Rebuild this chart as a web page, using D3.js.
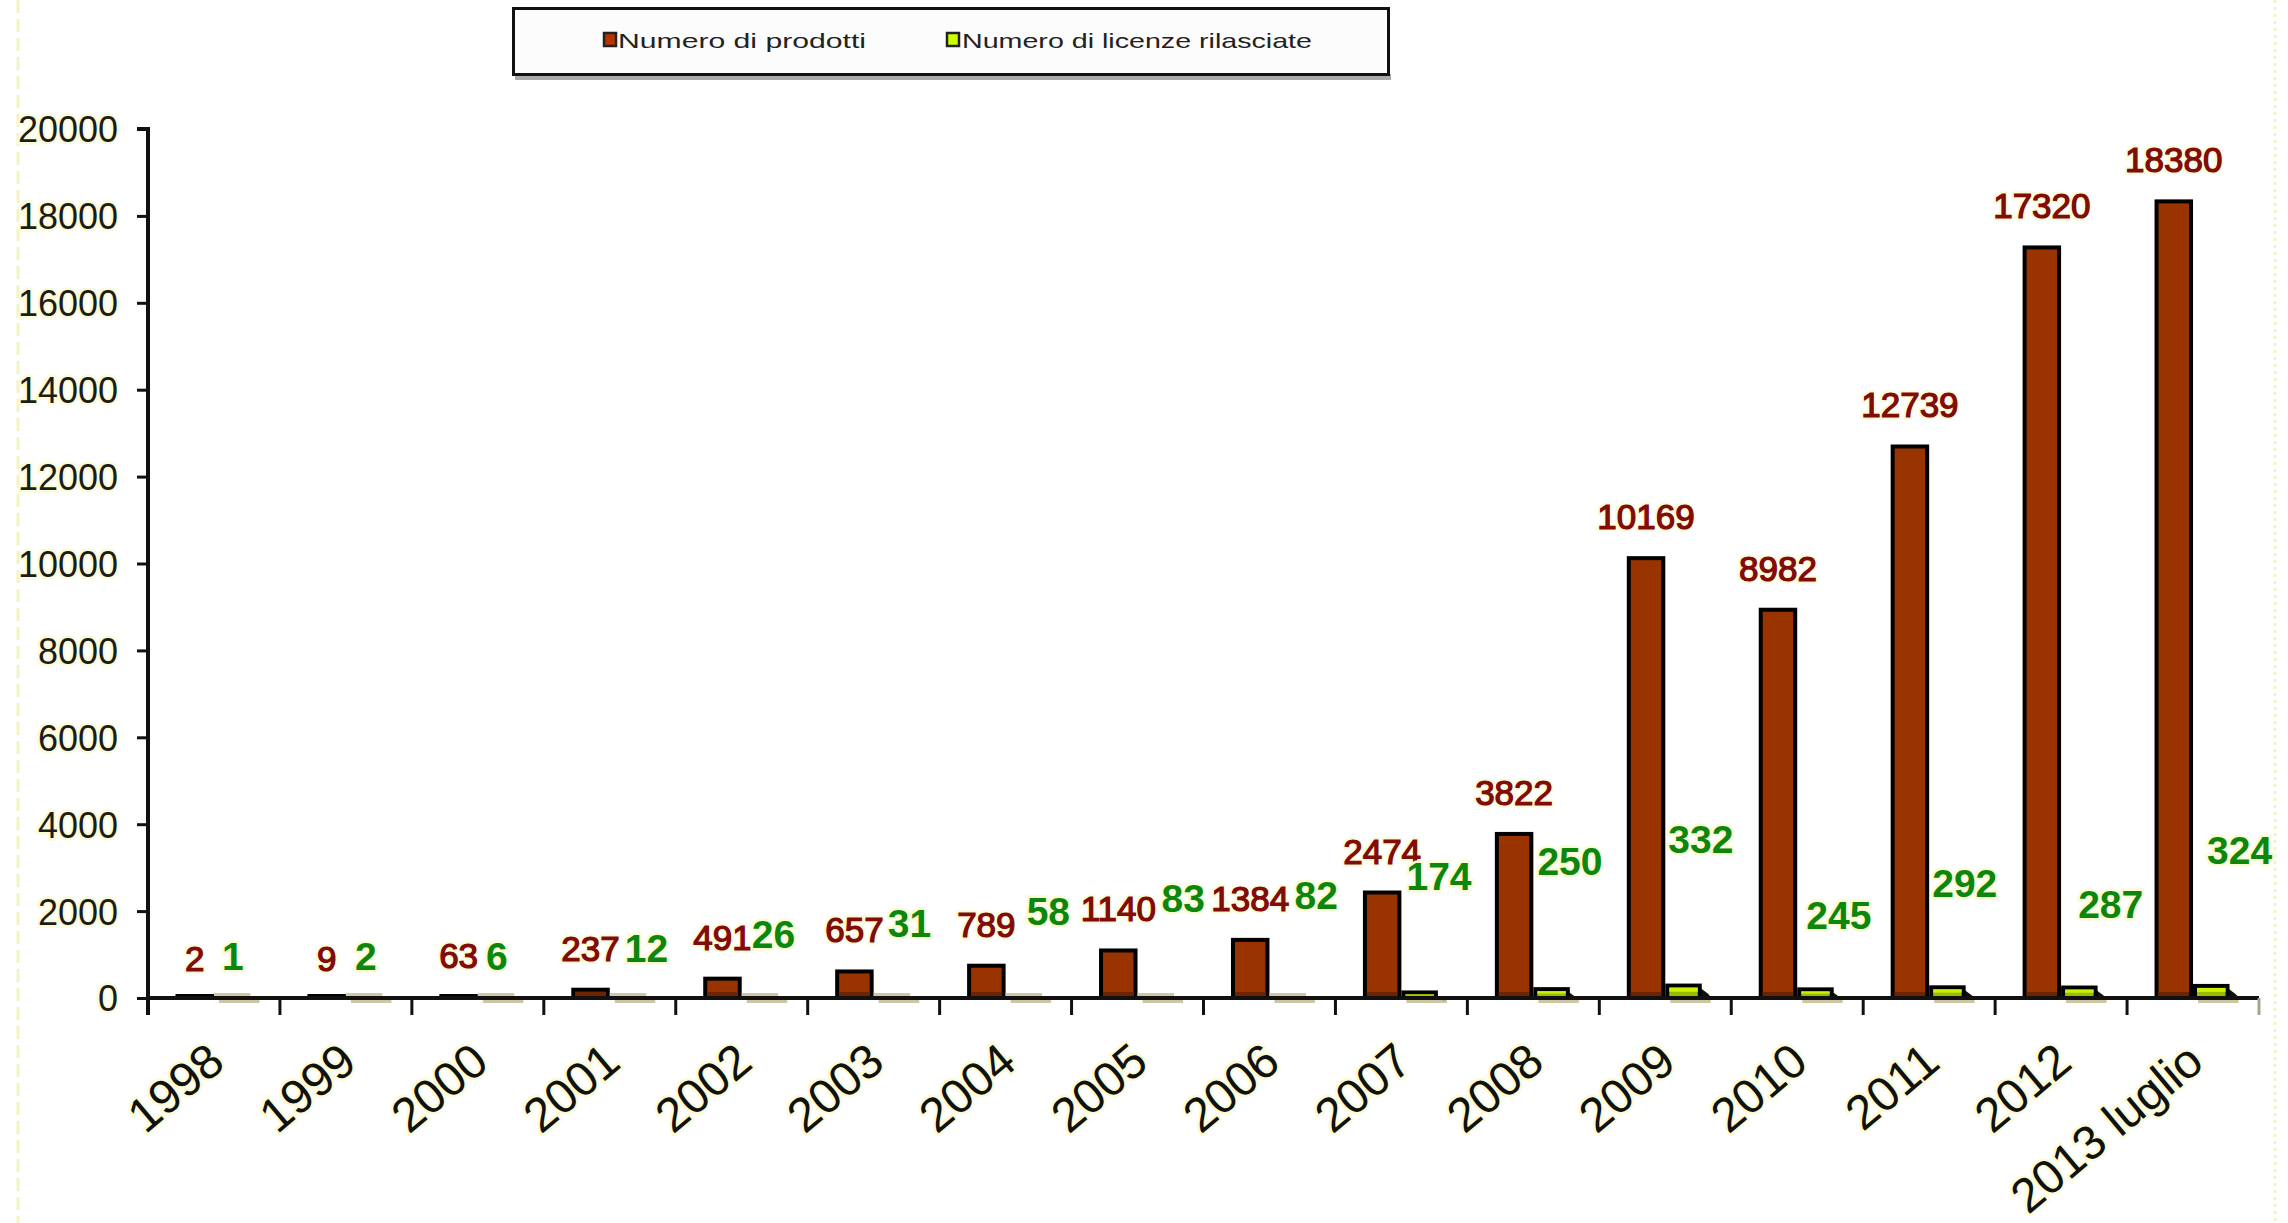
<!DOCTYPE html>
<html>
<head>
<meta charset="utf-8">
<script src="https://cdn.jsdelivr.net/npm/d3@7"></script>
<style>
  html, body { margin: 0; padding: 0; background: #ffffff; }
  svg { display: block; }
  text { font-family: "Liberation Sans", Arial, sans-serif; }
</style>
</head>
<body>
<svg id="chart" width="2288" height="1223"></svg>
<script>
// Anni (categorie) e valori delle due serie
const categories = ["1998", "1999", "2000", "2001", "2002", "2003", "2004", "2005",
                    "2006", "2007", "2008", "2009", "2010", "2011", "2012", "2013 luglio"];
const prodotti = [2, 9, 63, 237, 491, 657, 789, 1140, 1384, 2474, 3822, 10169, 8982, 12739, 17320, 18380];
const licenze  = [1, 2, 6, 12, 26, 31, 58, 83, 82, 174, 250, 332, 245, 292, 287, 324];
const seriesNames = ["Numero di prodotti", "Numero di licenze rilasciate"];
const yTicks = [0, 2000, 4000, 6000, 8000, 10000, 12000, 14000, 16000, 18000, 20000];

// Placement of the green value labels (pixels above the axis / from band start)
const greenLabelLift  = [28, 28, 28, 36, 50, 61, 73, 86, 89, 108, 123, 145, 69, 101, 80, 134];
const greenLabelShift = [74, 75, 74, 81, 76, 80, 87, 90, 91, 71, 70, 69, 75, 69, 83, 80];

const svg = d3.select("#chart");
const plot = { left: 148, right: 2259, top: 129, bottom: 998 };

const x0 = d3.scaleBand().domain(categories).range([plot.left, plot.right]).paddingInner(0).paddingOuter(0);
const x1 = d3.scaleBand().domain(seriesNames).range([0, x0.bandwidth()]).paddingInner(0).paddingOuter(0.714);
const y = d3.scaleLinear().domain([0, 20000]).range([plot.bottom, plot.top]);

const halo = "#fbfbd6";

// dashed border lines of the chart area
svg.append("line").attr("x1", 18).attr("x2", 18).attr("y1", 0).attr("y2", 1223)
  .attr("stroke", "#f3f3c0").attr("stroke-width", 3).attr("stroke-dasharray", "13 6");
svg.append("line").attr("x1", 2275).attr("x2", 2275).attr("y1", 0).attr("y2", 1223)
  .attr("stroke", "#f3f3c0").attr("stroke-width", 3).attr("stroke-dasharray", "3 4");

// ---- bars ----
const bars = svg.append("g");
categories.forEach((c, i) => {
  // numero di prodotti
  const rx = x0(c) + x1(seriesNames[0]);
  const rw = x1.bandwidth();
  const ry = y(prodotti[i]);
  const rh = y(0) - ry;
  const topEdge = Math.min(ry, y(0) - 4);
  bars.append("rect")
    .attr("x", rx + 2).attr("y", topEdge + 2)
    .attr("width", rw - 4).attr("height", y(0) - topEdge - 2)
    .attr("fill", "#993300")
    .attr("stroke", "#000").attr("stroke-width", 4);
  if (rh > 10) {
    bars.append("rect").attr("x", rx + 4).attr("y", y(0) - 6).attr("width", rw - 8).attr("height", 4)
      .attr("fill", "#6e2400");
  }

  // numero di licenze rilasciate
  const gx = x0(c) + x1(seriesNames[1]);
  const gw = x1.bandwidth() - 2;
  const gy = y(licenze[i]);
  const gh = y(0) - gy;
  // soft shadow under the axis
  bars.append("rect").attr("x", gx + 5).attr("y", y(0) + 1).attr("width", gw + 4).attr("height", 4)
    .attr("fill", "#cdc6a4");
  if (gh < 5) {
    bars.append("rect").attr("x", gx).attr("y", y(0) - 5).attr("width", gw).attr("height", 5)
      .attr("fill", "#cfc8a6");
  } else {
    // dark drop shadow on the right
    bars.append("polygon")
      .attr("points", [[gx + gw - 2, gy + 4], [gx + gw + 6, gy + 10], [gx + gw + 10, y(0)], [gx + gw - 2, y(0)]].join(" "))
      .attr("fill", "#111");
    bars.append("rect").attr("x", gx + 2).attr("y", gy + 2)
      .attr("width", gw - 4).attr("height", Math.max(gh - 2, 0))
      .attr("fill", "#99bb00")
      .attr("stroke", "#000").attr("stroke-width", 4);
    bars.append("rect").attr("x", gx + 4).attr("y", gy + 4)
      .attr("width", gw - 8).attr("height", Math.max((gh - 6) / 2, 0))
      .attr("fill", "#ccf000");
  }
});

// ---- axes ----
const yAxis = d3.axisLeft(y).tickValues(yTicks).tickSize(11).tickPadding(19).tickFormat(d3.format("d"));
const gy = svg.append("g").attr("transform", `translate(${plot.left},0)`).call(yAxis);
gy.select(".domain").attr("stroke", "#111").attr("stroke-width", 4)
  .attr("d", `M-11,${plot.top}H0V${plot.bottom + 17}`);
gy.selectAll(".tick line").attr("stroke", "#111").attr("stroke-width", 3);
gy.selectAll(".tick text")
  .attr("font-family", "'Liberation Sans', Arial, sans-serif")
  .attr("font-size", 36).attr("fill", "#1c1c1c")
  .attr("dy", "0.36em")
  .attr("stroke", halo).attr("stroke-width", 5).attr("paint-order", "stroke");

const xAxis = d3.axisBottom(x0).tickSize(0).tickFormat("");
const gx = svg.append("g").attr("transform", `translate(0,${plot.bottom})`).call(xAxis);
gx.select(".domain").attr("stroke", "#111").attr("stroke-width", 4)
  .attr("d", `M${plot.left},0H${plot.right}`);
// tick marks at the category boundaries
const boundaries = categories.map(c => x0(c)).concat([plot.right]);
gx.selectAll(".bound").data(boundaries).join("line")
  .attr("class", "bound")
  .attr("x1", d => d).attr("x2", d => d).attr("y1", 0).attr("y2", 17)
  .attr("stroke", (d, i) => i === boundaries.length - 1 ? "#a8a490" : "#111")
  .attr("stroke-width", 3);

// rotated category labels
svg.append("g").selectAll("text").data(categories).join("text")
  .attr("transform", d => `translate(${x0(d) + x0.bandwidth() / 2 + 13},1066) rotate(-40)`)
  .attr("text-anchor", "end")
  .attr("font-size", 48).attr("fill", "#111")
  .attr("stroke", halo).attr("stroke-width", 5).attr("paint-order", "stroke")
  .text(d => d);

// ---- value labels ----
const labels = svg.append("g");
labels.selectAll(".lp").data(categories).join("text")
  .attr("class", "lp")
  .attr("x", (c) => x0(c) + x1(seriesNames[0]) + x1.bandwidth() / 2)
  .attr("y", (c, i) => y(prodotti[i]) - 27)
  .attr("text-anchor", "middle")
  .attr("font-size", 35)
  .attr("fill", "#820c0c")
  .attr("stroke", halo).attr("stroke-width", 5).attr("paint-order", "stroke")
  .text((c, i) => prodotti[i]);
labels.selectAll(".lp2").data(categories).join("text")
  .attr("class", "lp2")
  .attr("x", (c) => x0(c) + x1(seriesNames[0]) + x1.bandwidth() / 2)
  .attr("y", (c, i) => y(prodotti[i]) - 27)
  .attr("text-anchor", "middle")
  .attr("font-size", 35)
  .attr("fill", "#820c0c")
  .attr("stroke", "#820c0c").attr("stroke-width", 1.2)
  .text((c, i) => prodotti[i]);

labels.selectAll(".ll").data(categories).join("text")
  .attr("class", "ll")
  .attr("x", (c, i) => x0(c) + greenLabelShift[i])
  .attr("y", (c, i) => y(0) - greenLabelLift[i])
  .attr("text-anchor", "start")
  .attr("font-size", 39).attr("font-weight", "bold")
  .attr("fill", "#0c860c")
  .attr("stroke", halo).attr("stroke-width", 5).attr("paint-order", "stroke")
  .text((c, i) => licenze[i]);

// ---- legend ----
const legend = svg.append("g");
legend.append("rect").attr("x", 515).attr("y", 74).attr("width", 876).attr("height", 6).attr("fill", "#a9a9a9");
legend.append("rect").attr("x", 513.5).attr("y", 8.5).attr("width", 875).attr("height", 66)
  .attr("fill", "#fbfcfb").attr("stroke", "#111").attr("stroke-width", 3);
const legendItems = [
  { name: seriesNames[0], fill: "#b83400", mx: 603, tx: 618, tw: 248 },
  { name: seriesNames[1], fill: "#ccff00", mx: 946, tx: 962, tw: 350 }
];
legendItems.forEach(it => {
  legend.append("rect").attr("x", it.mx + 1).attr("y", 33).attr("width", 12).attr("height", 13)
    .attr("fill", it.fill).attr("stroke", "#222").attr("stroke-width", 2.5);
  legend.append("text").attr("x", it.tx).attr("y", 48)
    .attr("font-family", "'DejaVu Sans', Verdana, sans-serif")
    .attr("font-size", 21).attr("fill", "#222")
    .attr("textLength", it.tw).attr("lengthAdjust", "spacingAndGlyphs")
    .text(it.name);
});
</script>
</body>
</html>
